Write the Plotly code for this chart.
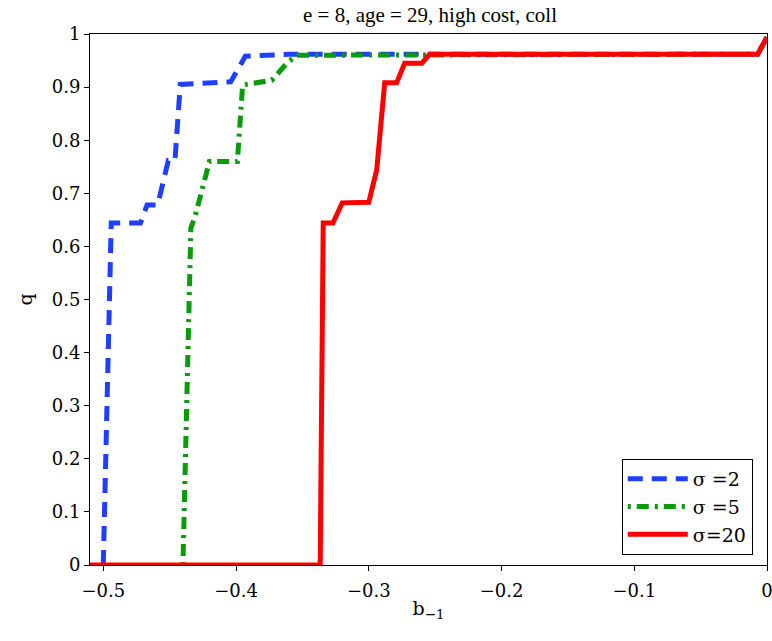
import plotly.graph_objects as go

# sigma = 2
b_s2 = [-0.500, -0.494, -0.472, -0.467, -0.459, -0.451, -0.446, -0.442, -0.404, -0.393, -0.36, -0.007, 0.0]
q_s2 = [0.0, 0.644, 0.644, 0.678, 0.678, 0.762, 0.762, 0.905, 0.910, 0.958, 0.962, 0.962, 0.994]

# sigma = 5
b_s5 = [-0.440, -0.434, -0.431, -0.420, -0.399, -0.395, -0.373, -0.361, -0.354, -0.007, 0.0]
q_s5 = [0.0, 0.635, 0.655, 0.760, 0.760, 0.904, 0.913, 0.947, 0.960, 0.962, 0.994]

# sigma = 20
b_s20 = [-0.510, -0.3366, -0.3343, -0.327, -0.320, -0.306, -0.300, -0.294, -0.288, -0.279, -0.273, -0.260, -0.254, -0.007, 0.0]
q_s20 = [0.0, 0.0, 0.644, 0.644, 0.682, 0.682, 0.683, 0.744, 0.908, 0.908, 0.945, 0.945, 0.962, 0.962, 0.994]

x_ticks = [-0.5, -0.4, -0.3, -0.2, -0.1, 0]
x_tick_labels = ["−0.5", "−0.4", "−0.3", "−0.2", "−0.1", "0"]
y_ticks = [0, 0.1, 0.2, 0.3, 0.4, 0.5, 0.6, 0.7, 0.8, 0.9, 1]
y_tick_labels = ["0", "0.1", "0.2", "0.3", "0.4", "0.5", "0.6", "0.7", "0.8", "0.9", "1"]

FONT = "'DejaVu Serif', serif"
TITLE_FONT = "'Liberation Serif', serif"

fig = go.Figure()
fig.add_trace(go.Scatter(x=b_s2, y=q_s2, mode="lines", name="σ =2",
                         line=dict(color="#1f3fff", width=5, dash="15px,9px")))
fig.add_trace(go.Scatter(x=b_s5, y=q_s5, mode="lines", name="σ =5",
                         line=dict(color="#0a9a0a", width=5, dash="3px,6px,12px,6px")))
fig.add_trace(go.Scatter(x=b_s20, y=q_s20, mode="lines", name="σ=20",
                         line=dict(color="#ff0000", width=5)))

axis_common = dict(showline=True, linecolor="black", linewidth=1, mirror=True,
                   ticks="outside", ticklen=5, tickcolor="black", showgrid=False,
                   zeroline=False, automargin=False, ticklabeloverflow="allow",
                   tickfont=dict(family=FONT, size=18, color="black"))

fig.update_layout(
    width=772, height=641,
    margin=dict(l=90, r=5, t=34, b=76),
    paper_bgcolor="white", plot_bgcolor="white",
    title=dict(text="e = 8, age = 29, high cost, coll", x=0.557, xanchor="center",
               y=1 - 15 / 641, yanchor="middle",
               font=dict(family=TITLE_FONT, size=21, color="black")),
    xaxis=dict(range=[-0.51, 0], tickvals=x_ticks, ticktext=x_tick_labels,
               ticklabelstandoff=4,
               title=dict(text="b<sub>−1</sub>", font=dict(family=FONT, size=19, color="black"),
                          standoff=2),
               **axis_common),
    yaxis=dict(range=[0, 1], tickvals=y_ticks, ticktext=y_tick_labels,
               title=dict(text="q", font=dict(family=FONT, size=19, color="black"),
                          standoff=14),
               **axis_common),
    legend=dict(x=0.979, y=0.019, xanchor="right", yanchor="bottom",
                bordercolor="black", borderwidth=1, bgcolor="white",
                font=dict(family=FONT, size=19, color="black"),
                tracegroupgap=0, itemwidth=60),
    showlegend=True,
)

fig.write_html("out.html")
